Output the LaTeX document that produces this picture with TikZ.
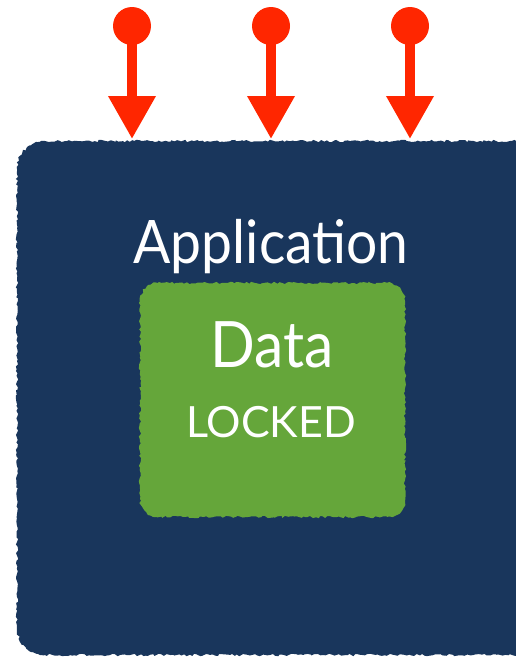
\documentclass[tikz,border=0pt]{standalone}
\usepackage{fontspec}
\setmainfont{Lato}
\newfontfamily\narrowfont{Lato}[FakeStretch=0.92]
\usetikzlibrary{arrows.meta,decorations.pathmorphing}
\definecolor{appblue}{RGB}{25,54,92}
\definecolor{datagreen}{RGB}{101,166,58}
\definecolor{callred}{RGB}{255,38,0}
\tikzset{
  rough/.style={decoration={random steps,segment length=2.5pt,amplitude=1.2pt}},
  callpin/.style={circle,fill=callred,inner sep=0pt,minimum size=38pt},
  callarrow/.style={draw=callred,line width=10pt,-{Triangle[width=45pt,length=43pt]}},
  boxtext/.style={text=white,anchor=base}
}
\begin{document}
\begin{tikzpicture}[x=1pt,y=-1pt]
\useasboundingbox (0,0) rectangle (516,659);
% application box
\fill[appblue] decorate[rough] {[rounded corners=28pt] (17,141) rectangle (540,655)};
% data box
\fill[datagreen] decorate[rough] {[rounded corners=18pt] (140,283) rectangle (405,517)};
\node[boxtext,font=\narrowfont\fontsize{60}{60}\selectfont] (app) at (271,263) {Application};
\node[boxtext,font=\narrowfont\fontsize{64}{64}\selectfont] (data) at (272,367) {Data};
\node[boxtext,font=\fontsize{43}{43}\selectfont] (locked) at (271,437) {LOCKED};
% calls
\node[callpin] (c1) at (132,26) {};
\node[callpin] (c2) at (271,26) {};
\node[callpin] (c3) at (410,26) {};
\coordinate (t1) at (132,139);
\coordinate (t2) at (271,139);
\coordinate (t3) at (410,139);
\draw[callarrow] (c1.center) -- (t1);
\draw[callarrow] (c2.center) -- (t2);
\draw[callarrow] (c3.center) -- (t3);
\end{tikzpicture}
\end{document}
